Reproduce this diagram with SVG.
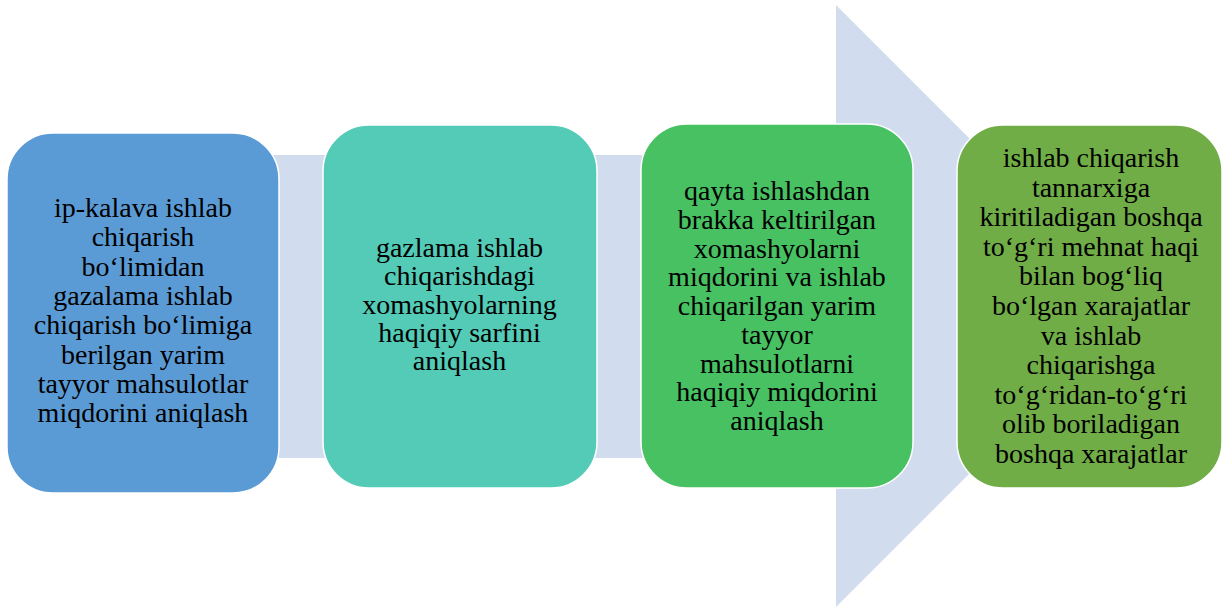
<svg xmlns="http://www.w3.org/2000/svg" width="1224" height="607" viewBox="0 0 1224 607">
<style>
.box{stroke:#ffffff;stroke-width:1.5}
.t{font-family:"Liberation Serif","Times New Roman",serif;font-size:28px;fill:#000;text-anchor:middle}
</style>
<rect width="1224" height="607" fill="#ffffff"/>
<g id="connectors">
<polygon points="20,155 836,155 836,5 1137,306 836,607 836,458 20,458" fill="#D1DCEE"/>
</g>
<g id="node1">
<rect class="box" x="7" y="133" width="272" height="360" rx="46" fill="#5B9BD5"/>
<text class="t"><tspan x="143" y="217">ip-kalava ishlab</tspan><tspan x="143" y="246.3">chiqarish</tspan><tspan x="143" y="275.6">bo‘limidan</tspan><tspan x="143" y="304.9">gazalama ishlab</tspan><tspan x="143" y="334.2">chiqarish bo‘limiga</tspan><tspan x="143" y="363.5">berilgan yarim</tspan><tspan x="143" y="392.8">tayyor mahsulotlar</tspan><tspan x="143" y="422.1">miqdorini aniqlash</tspan></text>
</g>
<g id="node2">
<rect class="box" x="323" y="125" width="274" height="363" rx="46" fill="#53CBB6"/>
<text class="t"><tspan x="459.5" y="257">gazlama ishlab</tspan><tspan x="459.5" y="285.3">chiqarishdagi</tspan><tspan x="459.5" y="313.6">xomashyolarning</tspan><tspan x="459.5" y="341.9">haqiqiy sarfini</tspan><tspan x="459.5" y="370.2">aniqlash</tspan></text>
</g>
<g id="node3">
<rect class="box" x="641" y="124" width="272" height="364" rx="46" fill="#48C163"/>
<text class="t"><tspan x="777" y="200">qayta ishlashdan</tspan><tspan x="777" y="228.75">brakka keltirilgan</tspan><tspan x="777" y="257.5">xomashyolarni</tspan><tspan x="777" y="286.25">miqdorini va ishlab</tspan><tspan x="777" y="315">chiqarilgan yarim</tspan><tspan x="777" y="343.75">tayyor</tspan><tspan x="777" y="372.5">mahsulotlarni</tspan><tspan x="777" y="401.25">haqiqiy miqdorini</tspan><tspan x="777" y="430">aniqlash</tspan></text>
</g>
<g id="node4">
<rect class="box" x="957" y="125" width="265" height="363" rx="46" fill="#70AD47"/>
<text class="t"><tspan x="1091" y="167">ishlab chiqarish</tspan><tspan x="1091" y="196.6">tannarxiga</tspan><tspan x="1091" y="226.2">kiritiladigan boshqa</tspan><tspan x="1091" y="255.8">to‘g‘ri mehnat haqi</tspan><tspan x="1091" y="285.4">bilan bog‘liq</tspan><tspan x="1091" y="315">bo‘lgan xarajatlar</tspan><tspan x="1091" y="344.6">va ishlab</tspan><tspan x="1091" y="374.2">chiqarishga</tspan><tspan x="1091" y="403.8">to‘g‘ridan-to‘g‘ri</tspan><tspan x="1091" y="433.4">olib boriladigan</tspan><tspan x="1091" y="463">boshqa xarajatlar</tspan></text>
</g>
</svg>
